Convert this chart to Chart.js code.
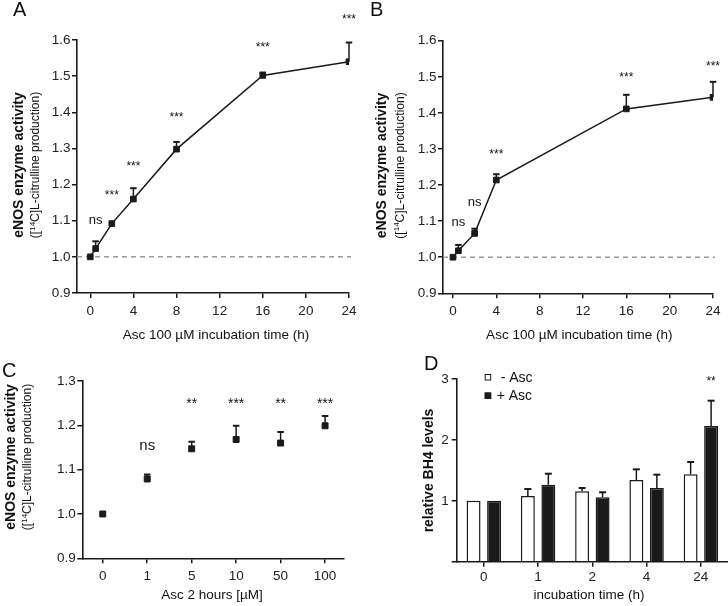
<!DOCTYPE html>
<html><head><meta charset="utf-8">
<script src="https://cdn.jsdelivr.net/npm/chart.js@4.4.0/dist/chart.umd.min.js"></script>
<style>
html,body{margin:0;padding:0;background:#fff;width:728px;height:606px;overflow:hidden;}
.p{position:absolute;}
canvas{display:block;}
</style></head><body>
<div class="p" style="left:0;top:0;width:364px;height:345px"><canvas id="cA" width="364" height="345"></canvas></div>
<div class="p" style="left:364px;top:0;width:364px;height:345px"><canvas id="cB" width="364" height="345"></canvas></div>
<div class="p" style="left:0;top:345px;width:364px;height:261px"><canvas id="cC" width="364" height="261"></canvas></div>
<div class="p" style="left:364px;top:345px;width:364px;height:261px"><canvas id="cD" width="364" height="261"></canvas></div>
<script>
// ---------------- DATA ----------------
// Panel A: Asc 100 µM time course
const timeA = [0, 0.5, 2, 4, 8, 16, 24];
const actA  = [1.0, 1.023, 1.092, 1.16, 1.298, 1.502, 1.54];
const semA  = [0, 0.02, 0, 0.03, 0.02, 0.008, 0.053];
const sigA  = ['', 'ns', '***', '***', '***', '***', '***'];
const sigYA = [null, 1.10, 1.18, 1.26, 1.394, 1.589, 1.665];
// Panel B
const timeB = [0, 0.5, 2, 4, 16, 24];
const actB  = [1.0, 1.018, 1.066, 1.214, 1.411, 1.443];
const semB  = [0, 0.016, 0.013, 0.016, 0.039, 0.043];
const sigB  = ['', 'ns', 'ns', '***', '***', '***'];
const sigYB = [null, 1.097, 1.151, 1.294, 1.508, 1.537];
// shared tick labels for A and B
const timeTicks = [0, 4, 8, 12, 16, 20, 24];
const actTicksAB = [0.9, 1.0, 1.1, 1.2, 1.3, 1.4, 1.5, 1.6];
// Panel C: Asc 2 hours concentration
const concC = ['0', '1', '5', '10', '50', '100'];
const actC  = [1.0, 1.079, 1.147, 1.168, 1.160, 1.199];
const semC  = [0, 0.01, 0.016, 0.031, 0.025, 0.022];
const sigC  = ['', 'ns', '**', '***', '**', '***'];
const sigYC = [null, 1.1535, 1.257, 1.257, 1.257, 1.257];
const actTicksC = [0.9, 1.0, 1.1, 1.2, 1.3];
// Panel D: relative BH4 levels
const timeD = ['0', '1', '2', '4', '24'];
const minusAsc    = [1.0, 1.079, 1.156, 1.342, 1.435];
const minusAscErr = [0, 0.115, 0.054, 0.175, 0.202];
const plusAsc     = [1.0, 1.264, 1.057, 1.21, 2.228];
const plusAscErr  = [0, 0.181, 0.083, 0.219, 0.416];
const sigD  = ['', '', '', '', '**'];
const sigYD = [null, null, null, null, 3.01];
const bh4Ticks = [0, 1, 2, 3];

// ---------------- STYLE ----------------
const FONT = '"Liberation Sans", Arial, Helvetica, sans-serif';
const ink = '#1a1a1a';
Chart.defaults.font.family = FONT;
Chart.defaults.font.size = 13.5;
Chart.defaults.color = '#222';

function rotText(ctx, segs, cx, cy) {
  ctx.save(); ctx.translate(cx, cy); ctx.rotate(-Math.PI / 2);
  ctx.textBaseline = 'middle'; ctx.textAlign = 'left'; ctx.fillStyle = '#111';
  let total = 0;
  segs.forEach(s => { ctx.font = s[1]; total += ctx.measureText(s[0]).width; });
  let x = -total / 2;
  segs.forEach(s => { ctx.font = s[1]; ctx.fillText(s[0], x, s[2] || 0); x += ctx.measureText(s[0]).width; });
  ctx.restore();
}

function drawErrors(chart, o) {
  if (!o.errors) return;
  const ctx = chart.ctx, ys = chart.scales.y;
  ctx.save(); ctx.strokeStyle = ink; ctx.lineWidth = 1.5;
  o.errors.forEach((errs, di) => {
    const meta = chart.getDatasetMeta(di);
    const vals = chart.data.datasets[di].data;
    errs.forEach((e, j) => {
      if (!e) return;
      const el = meta.data[j];
      const v = typeof vals[j] === 'object' ? vals[j].y : vals[j];
      const top = ys.getPixelForValue(v + e);
      ctx.beginPath(); ctx.moveTo(el.x, el.y); ctx.lineTo(el.x, top); ctx.stroke();
      ctx.lineWidth = 2;
      ctx.beginPath(); ctx.moveTo(el.x - o.cap / 2, top); ctx.lineTo(el.x + o.cap / 2, top); ctx.stroke();
      ctx.lineWidth = 1.5;
    });
  });
  ctx.restore();
}

const deco = {
  id: 'deco',
  beforeDatasetsDraw(chart, args, o) {
    const ctx = chart.ctx, ca = chart.chartArea;
    if (o.refLine != null) {
      const y = chart.scales.y.getPixelForValue(o.refLine);
      ctx.save(); ctx.strokeStyle = '#9a9a9a'; ctx.lineWidth = 1.5; ctx.setLineDash([5, 4]);
      ctx.beginPath(); ctx.moveTo(ca.left, y); ctx.lineTo(ca.right + 2, y); ctx.stroke(); ctx.restore();
    }
    if (o.errorsBefore) drawErrors(chart, o);
  },
  afterDatasetsDraw(chart, args, o) {
    if (!o.errorsBefore) drawErrors(chart, o);
  },
  afterDraw(chart, args, o) {
    const ctx = chart.ctx, ys = chart.scales.y;
    ctx.save();
    // panel letter
    ctx.font = '20px ' + FONT; ctx.fillStyle = '#111'; ctx.textAlign = 'left'; ctx.textBaseline = 'alphabetic';
    ctx.fillText(o.letter[0], o.letter[1], o.letter[2]);
    // x title
    ctx.font = '13.5px ' + FONT; ctx.textAlign = 'center'; ctx.textBaseline = 'middle';
    ctx.fillText(o.xTitle[0], o.xTitle[1], o.xTitle[2]);
    // y title
    rotText(ctx, [[o.yTitle[0], 'bold 14px ' + FONT, 0]], o.yTitle[1], o.yTitle[2]);
    if (o.yTitle2) {
      rotText(ctx, [['([', '12px ' + FONT, 0], ['14', '8px ' + FONT, -3.5], ['C]L-citrulline production)', '12px ' + FONT, 0]], o.yTitle2[0], o.yTitle2[1]);
    }
    // significance labels
    if (o.sig) {
      const meta = chart.getDatasetMeta(o.sig.ds);
      ctx.textAlign = 'center'; ctx.textBaseline = 'alphabetic'; ctx.fillStyle = '#111';
      o.sig.text.forEach((t, j) => {
        if (!t) return;
        const x = meta.data[j].x;
        const y = ys.getPixelForValue(o.sig.y[j]);
        if (t === 'ns') { ctx.font = o.sig.nsSize + 'px ' + FONT; ctx.fillText(t, x, y + 0.26 * o.sig.nsSize); }
        else { ctx.font = o.sig.starSize + 'px ' + FONT; ctx.fillText(t, x, y + 0.575 * o.sig.starSize); }
      });
    }
    // legend (panel D)
    if (o.legend) {
      const L = o.legend;
      chart.data.datasets.forEach((d, i) => {
        const by = L.y + i * L.dy;
        ctx.fillStyle = d.backgroundColor; ctx.strokeStyle = ink; ctx.lineWidth = 1;
        ctx.fillRect(L.x, by - 7, 6.5, 6.5); ctx.strokeRect(L.x + 0.5, by - 6.5, 5.5, 5.5);
        ctx.fillStyle = '#111'; ctx.font = '14px ' + FONT; ctx.textAlign = 'left'; ctx.textBaseline = 'alphabetic';
        ctx.fillText(d.label, L.tx[i], by + 0.7);
      });
    }
    ctx.restore();
  }
};

function axisStyle(extra) {
  return Object.assign({
    grid: { drawOnChartArea: false, drawTicks: true, tickLength: 5, color: ink, lineWidth: 1.5 },
    border: { color: ink, width: 1.6 },
  }, extra);
}

function lineChart(id, xs, ys, sem, sig, sigY, xmin, xmax, area, letter, xTitle, yT1, yT2) {
  return new Chart(document.getElementById(id), {
    type: 'scatter',
    data: { datasets: [{
      data: xs.map((t, i) => ({ x: t, y: ys[i] })),
      showLine: true, borderColor: ink, borderWidth: 1.5,
      pointStyle: 'rect', pointRadius: 4, pointBackgroundColor: ink, pointBorderColor: ink, pointBorderWidth: 1
    }] },
    options: {
      responsive: false, animation: false, events: [],
      layout: { padding: { left: 0, top: area.top, right: 364 - area.right, bottom: 0 } },
      plugins: {
        legend: { display: false }, tooltip: { enabled: false },
        deco: {
          refLine: 1.0, errorsBefore: true, errors: [sem], cap: 6.5,
          letter: letter, xTitle: xTitle, yTitle: yT1, yTitle2: yT2,
          sig: { ds: 0, text: sig, y: sigY, nsSize: 13, starSize: 12 }
        }
      },
      scales: {
        x: axisStyle({ type: 'linear', min: xmin, max: xmax,
          afterBuildTicks: s => { s.ticks = timeTicks.map(v => ({ value: v })); },
          afterFit: s => { s.height = 345 - area.bottom; },
          ticks: { padding: 5, color: '#222', callback: v => String(v) } }),
        y: axisStyle({ type: 'linear', min: 0.9, max: 1.6,
          afterBuildTicks: s => { s.ticks = actTicksAB.map(v => ({ value: v })); },
          afterFit: s => { s.width = area.left; },
          ticks: { padding: 1.5, color: '#222', callback: v => Number(v).toFixed(1) } })
      }
    },
    plugins: [deco]
  });
}

lineChart('cA', timeA, actA, semA, sigA, sigYA, -1.23, 24,
  { left: 77, top: 40, right: 349, bottom: 293 },
  ['A', 13, 16], ['Asc 100 \u00b5M incubation time (h)', 216, 335],
  ['eNOS enzyme activity', 19, 165], [36, 165]);

lineChart('cB', timeB, actB, semB, sigB, sigYB, -0.92, 24,
  { left: 79, top: 40.7, right: 349, bottom: 293.3 },
  ['B', 6, 16], ['Asc 100 \u00b5M incubation time (h)', 215.3, 335],
  ['eNOS enzyme activity', 18.5, 165.5], [36.5, 165.5]);

// Panel C
new Chart(document.getElementById('cC'), {
  type: 'scatter',
  data: { datasets: [{
    data: actC.map((v, i) => ({ x: i, y: v })),
    showLine: false, pointStyle: 'rect', pointRadius: 4.2,
    pointBackgroundColor: ink, pointBorderColor: ink, pointBorderWidth: 1
  }] },
  options: {
    responsive: false, animation: false, events: [],
    layout: { padding: { left: 0, top: 36, right: 364 - 343.3, bottom: 0 } },
    plugins: {
      legend: { display: false }, tooltip: { enabled: false },
      deco: {
        errorsBefore: true, errors: [semC], cap: 6.5,
        letter: ['C', 2, 32], xTitle: ['Asc 2 hours [\u00b5M]', 212, 250],
        yTitle: ['eNOS enzyme activity', 11, 112], yTitle2: [28, 112],
        sig: { ds: 0, text: sigC, y: sigYC, nsSize: 15, starSize: 14 }
      }
    },
    scales: {
      x: axisStyle({ type: 'linear', min: -0.46, max: 5.41,
        afterBuildTicks: s => { s.ticks = concC.map((c, i) => ({ value: i })); },
        afterFit: s => { s.height = 261 - 213.3; },
        ticks: { padding: 5, color: '#222', callback: v => concC[v] } }),
      y: axisStyle({ type: 'linear', min: 0.9, max: 1.3,
        afterBuildTicks: s => { s.ticks = actTicksC.map(v => ({ value: v })); },
        afterFit: s => { s.width = 82.3; },
        ticks: { padding: 1.5, color: '#222', callback: v => Number(v).toFixed(1) } })
    }
  },
  plugins: [deco]
});

// Panel D
new Chart(document.getElementById('cD'), {
  type: 'bar',
  data: { labels: timeD, datasets: [
    { label: '- Asc', data: minusAsc, backgroundColor: '#ffffff', borderColor: ink, borderWidth: 1.5 },
    { label: '+ Asc', data: plusAsc, backgroundColor: ink, borderColor: ink, borderWidth: 1.5 }
  ] },
  options: {
    responsive: false, animation: false, events: [],
    datasets: { bar: { categoryPercentage: 0.755, barPercentage: 0.68 } },
    layout: { padding: { left: 0, top: 34, right: 0, bottom: 0 } },
    plugins: {
      legend: { display: false }, tooltip: { enabled: false },
      deco: {
        errorsBefore: false, errors: [minusAscErr, plusAscErr], cap: 7,
        letter: ['D', 60, 25], xTitle: ['incubation time (h)', 225, 250],
        yTitle: ['relative BH4 levels', 65, 125.5],
        sig: { ds: 1, text: sigD, y: sigYD, nsSize: 13, starSize: 12 },
        legend: { x: 120.7, y: 36, dy: 18.5, tx: [136.7, 132.7] }
      }
    },
    scales: {
      x: axisStyle({ type: 'category',
        grid: { offset: false, drawOnChartArea: false, drawTicks: true, tickLength: 5, color: ink, lineWidth: 1.5 },
        afterFit: s => { s.height = 261 - 216.7; },
        ticks: { padding: 2, color: '#222' } }),
      y: axisStyle({ type: 'linear', min: 0, max: 3,
        afterBuildTicks: s => { s.ticks = bh4Ticks.map(v => ({ value: v })); },
        afterFit: s => { s.width = 92.7; },
        ticks: { padding: 3, color: '#222', callback: v => (v === 0 ? '' : String(v)) } })
    }
  },
  plugins: [deco]
});
</script>
</body></html>
